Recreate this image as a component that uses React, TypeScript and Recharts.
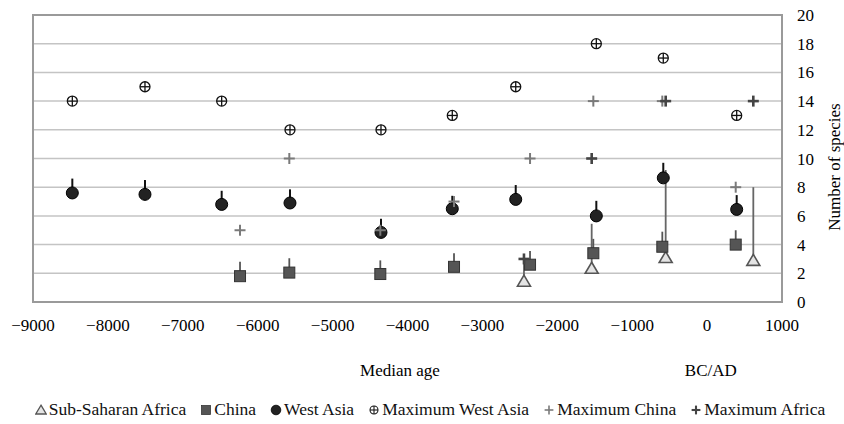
import React from 'react';
import { ScatterChart, Scatter, XAxis, YAxis, CartesianGrid, ErrorBar, ReferenceArea } from 'recharts';

// Sub-Saharan Africa
const africaX = [-2445, -1541, -553, 617];
const africaY = [1.45, 2.35, 3.1, 2.9];
const africaErr = [1.6, 3.1, 6.1, 5.1];

// China
const chinaX = [-6236, -5578, -4363, -3379, -2364, -1519, -598, 382];
const chinaY = [1.8, 2.05, 1.95, 2.45, 2.6, 3.4, 3.85, 4.0];
const chinaErr = [1.0, 1.0, 0.95, 0.95, 0.95, 1.0, 1.05, 1.0];

// West Asia
const westAsiaX = [-8475, -7505, -6481, -5569, -4354, -3402, -2555, -1479, -585, 395];
const westAsiaY = [7.6, 7.5, 6.8, 6.9, 4.85, 6.5, 7.15, 6.0, 8.65, 6.45];
const westAsiaErr = [1.0, 1.0, 0.95, 0.95, 0.95, 0.9, 1.0, 1.05, 1.05, 1.0];

// maxima
const maxWestAsiaY = [14, 15, 14, 12, 12, 13, 15, 18, 17, 13];
const maxChinaY = [5, 10, 5, 7, 10, 14, 14, 8];
const maxAfricaY = [3, 10, 14, 14];

const xTicks = [-9000, -8000, -7000, -6000, -5000, -4000, -3000, -2000, -1000, 0, 1000];
const yTicks = [0, 2, 4, 6, 8, 10, 12, 14, 16, 18, 20];

const zip = (xs: number[], ys: number[], errs?: number[]) =>
  xs.map((x, i) => ({ x, y: ys[i], err: errs ? [0, errs[i]] : undefined }));

const africaData = zip(africaX, africaY, africaErr);
const chinaData = zip(chinaX, chinaY, chinaErr);
const westAsiaData = zip(westAsiaX, westAsiaY, westAsiaErr);
const maxWestAsiaData = zip(westAsiaX, maxWestAsiaY);
const maxChinaData = zip(chinaX, maxChinaY);
const maxAfricaData = zip(africaX, maxAfricaY);

const FONT = '"Liberation Serif", "Times New Roman", serif';

const Triangle = (p: any) => (
  <path
    d={`M${p.cx},${p.cy - 6} L${p.cx + 6.5},${p.cy + 5} L${p.cx - 6.5},${p.cy + 5} Z`}
    fill="#e4e4e4" stroke="#555" strokeWidth={1.6} />
);
const Square = (p: any) => (
  <rect x={p.cx - 5.5} y={p.cy - 5.5} width={11} height={11} fill="#555" stroke="#333" strokeWidth={1} />
);
const Dot = (p: any) => <circle cx={p.cx} cy={p.cy} r={6} fill="#222" stroke="#000" strokeWidth={1} />;
const CirclePlus = (p: any) => (
  <g stroke="#111" strokeWidth={1.3}>
    <circle cx={p.cx} cy={p.cy} r={5} fill="#fff" />
    <line x1={p.cx - 5} y1={p.cy} x2={p.cx + 5} y2={p.cy} />
    <line x1={p.cx} y1={p.cy - 5} x2={p.cx} y2={p.cy + 5} />
  </g>
);
const plus = (color: string, w: number) => (p: any) => (
  <g stroke={color} strokeWidth={w}>
    <line x1={p.cx - 5.5} y1={p.cy} x2={p.cx + 5.5} y2={p.cy} />
    <line x1={p.cx} y1={p.cy - 5.5} x2={p.cx} y2={p.cy + 5.5} />
  </g>
);
const PlusChina = plus('#7a7a7a', 2);
const PlusAfrica = plus('#444', 2.6);

const fmt = (v: number) => (v < 0 ? '\u2212' + Math.abs(v) : String(v));

const legendItems = [
  { label: 'Sub-Saharan Africa', Icon: Triangle },
  { label: 'China', Icon: Square },
  { label: 'West Asia', Icon: Dot },
  { label: 'Maximum West Asia', Icon: CirclePlus },
  { label: 'Maximum China', Icon: PlusChina },
  { label: 'Maximum Africa', Icon: PlusAfrica },
];

export default function App() {
  return (
    <div style={{ position: 'relative', width: 844, height: 424, fontFamily: FONT, background: '#fff' }}>
      <style>{'body{margin:0}'}</style>
      <ScatterChart width={844} height={424} margin={{ top: 15, right: 0, bottom: 82, left: 33 }}>
        <CartesianGrid vertical={false} stroke="#c4c4c4" strokeWidth={1.5} />
        <ReferenceArea x1={-9000} x2={1000} y1={0} y2={20} fill="none" stroke="#9a9a9a" strokeWidth={2} fillOpacity={0} />
        <XAxis
          type="number" dataKey="x" domain={[-9000, 1000]} ticks={xTicks} tickFormatter={fmt}
          axisLine={false} tickLine={false} tickMargin={11} height={40} interval={0}
          tick={{ fill: '#000', fontSize: 17, fontFamily: FONT }}
          label={{
            content: (props: any) => {
              const vb = props.viewBox;
              return (
                <g fontFamily={FONT} fontSize={17} fill="#000">
                  <text x={vb.x + vb.width * 0.49} y={376} textAnchor="middle">Median age</text>
                  <text x={vb.x + vb.width * 0.905} y={376} textAnchor="middle">BC/AD</text>
                </g>
              );
            },
          }}
        />
        <YAxis
          type="number" dataKey="y" orientation="right" domain={[0, 20]} ticks={yTicks} width={62}
          axisLine={false} tickLine={false} tickMargin={9} interval={0}
          tick={{ fill: '#000', fontSize: 17, fontFamily: FONT, textAnchor: 'start' }}
          label={{
            content: (props: any) => {
              const vb = props.viewBox;
              const x = vb.x + 52;
              const y = 167;
              return (
                <text x={x} y={y} transform={`rotate(-90 ${x} ${y})`} textAnchor="middle"
                  dominantBaseline="central" fontFamily={FONT} fontSize={17} fill="#000">
                  Number of species
                </text>
              );
            },
          }}
        />
        <Scatter name="Sub-Saharan Africa" data={africaData} shape={Triangle} isAnimationActive={false}>
          <ErrorBar dataKey="err" direction="y" width={0} stroke="#666" strokeWidth={1.8} />
        </Scatter>
        <Scatter name="China" data={chinaData} shape={Square} isAnimationActive={false}>
          <ErrorBar dataKey="err" direction="y" width={0} stroke="#555" strokeWidth={1.8} />
        </Scatter>
        <Scatter name="West Asia" data={westAsiaData} shape={Dot} isAnimationActive={false}>
          <ErrorBar dataKey="err" direction="y" width={0} stroke="#111" strokeWidth={2} />
        </Scatter>
        <Scatter name="Maximum West Asia" data={maxWestAsiaData} shape={CirclePlus} isAnimationActive={false} />
        <Scatter name="Maximum China" data={maxChinaData} shape={PlusChina} isAnimationActive={false} />
        <Scatter name="Maximum Africa" data={maxAfricaData} shape={PlusAfrica} isAnimationActive={false} />
      </ScatterChart>
      <div style={{
        position: 'absolute', left: 0, top: 399, width: 844, display: 'flex', justifyContent: 'center',
        alignItems: 'center', fontSize: 17.5, color: '#111', whiteSpace: 'nowrap', paddingLeft: 16,
        boxSizing: 'border-box',
      }}>
        {legendItems.map(({ label, Icon }, i) => (
          <span key={label} style={{ display: 'inline-flex', alignItems: 'center', marginRight: i < legendItems.length - 1 ? 14 : 0 }}>
            <svg width={12} height={14} style={{ marginRight: 2 }}>
              <g transform="translate(6 7) scale(0.8) translate(-6 -7)">
                <Icon cx={6} cy={7} />
              </g>
            </svg>
            {label}
          </span>
        ))}
      </div>
    </div>
  );
}
